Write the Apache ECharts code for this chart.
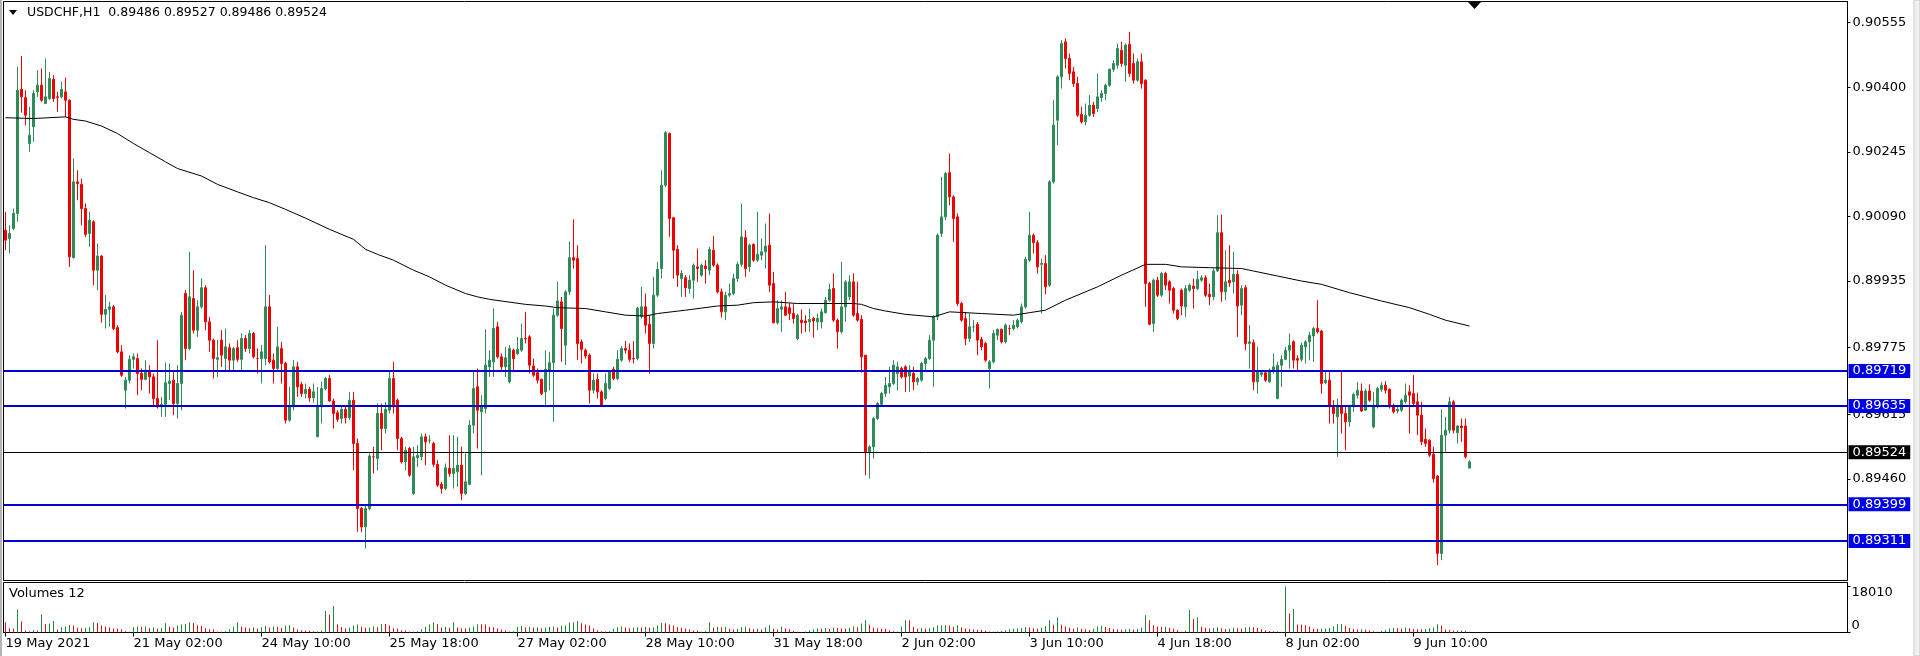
<!DOCTYPE html>
<html><head><meta charset="utf-8">
<script src="https://cdn.jsdelivr.net/npm/echarts@6/dist/echarts.min.js"></script>
<style>html,body{margin:0;padding:0;background:#fff;overflow:hidden}#c{width:1920px;height:656px}</style>
</head><body><div id="c"></div>
<script>
const symbolTitle = 'USDCHF,H1';
const headerQuote = ['0.89486', '0.89527', '0.89486', '0.89524'];
const volumeTitle = 'Volumes 12';
const tickLabels = ['19 May 2021','21 May 02:00','24 May 10:00','25 May 18:00','27 May 02:00','28 May 10:00','31 May 18:00','2 Jun 02:00','3 Jun 10:00','4 Jun 18:00','8 Jun 02:00','9 Jun 10:00'];
const barsPerTick = 32;
const priceTicks = [0.90555, 0.90400, 0.90245, 0.90090, 0.89935, 0.89775, 0.89615, 0.89460];
const levelLines = [0.89719, 0.89635, 0.89399, 0.89311];
const bidPrice = 0.89524;
const volumeTickTop = 18010;
const priceMin = 0.892162, priceMax = 0.906059;
const volumeMax = 19600;
const slotCount = 461;

const opens = [
0.90057,0.90037,0.90061,0.90097,0.90395,0.90375,0.90265,0.90305,0.90389,0.90405,
0.90361,0.90373,0.90419,0.90377,0.90377,0.90389,0.90369,0.89991,0.90173,0.90167,
0.90109,0.90049,0.90077,0.89961,0.89995,0.89855,0.89867,0.89873,0.89823,0.89765,
0.89673,0.89697,0.89747,0.89749,0.89713,0.89699,0.89719,0.89705,0.89653,0.89633,
0.89639,0.89689,0.89697,0.89641,0.89689,0.89905,0.89773,0.89893,0.89817,0.89873,
0.89919,0.89837,0.89793,0.89747,0.89793,0.89749,0.89775,0.89745,0.89775,0.89747,
0.89797,0.89773,0.89809,0.89749,0.89749,0.89749,0.89873,0.89745,0.89725,0.89773,
0.89737,0.89601,0.89633,0.89729,0.89687,0.89665,0.89675,0.89655,0.89561,0.89633,
0.89677,0.89701,0.89647,0.89619,0.89605,0.89627,0.89607,0.89649,0.89545,0.89389,
0.89345,0.89389,0.89513,0.89509,0.89617,0.89581,0.89625,0.89701,0.89649,0.89557,
0.89501,0.89533,0.89425,0.89511,0.89513,0.89561,0.89553,0.89545,0.89495,0.89447,
0.89437,0.89485,0.89473,0.89477,0.89493,0.89425,0.89447,0.89589,0.89681,0.89621,
0.89629,0.89729,0.89741,0.89825,0.89753,0.89729,0.89693,0.89769,0.89761,0.89769,
0.89797,0.89801,0.89731,0.89715,0.89699,0.89669,0.89721,0.89739,0.89853,0.89885,
0.89781,0.89909,0.89991,0.89989,0.89789,0.89769,0.89757,0.89673,0.89699,0.89669,
0.89653,0.89677,0.89723,0.89701,0.89745,0.89773,0.89769,0.89749,0.89749,0.89849,
0.89873,0.89831,0.89785,0.89901,0.89965,0.90165,0.90289,0.90087,0.90011,0.89941,
0.89943,0.89917,0.89937,0.89969,0.89949,0.89971,0.89961,0.90009,0.89973,0.89909,
0.89861,0.89901,0.89905,0.89941,0.89975,0.90039,0.89969,0.90023,0.89985,0.89997,
0.90005,0.90021,0.89929,0.89835,0.89867,0.89873,0.89871,0.89857,0.89797,0.89841,
0.89839,0.89837,0.89845,0.89837,0.89837,0.89859,0.89889,0.89917,0.89841,0.89813,
0.89873,0.89897,0.89933,0.89857,0.89843,0.89757,0.89525,0.89537,0.89605,0.89639,
0.89665,0.89681,0.89689,0.89713,0.89725,0.89729,0.89707,0.89713,0.89693,0.89697,
0.89737,0.89749,0.89793,0.89849,0.90049,0.90089,0.90195,0.90137,0.90089,0.89881,
0.89845,0.89797,0.89825,0.89831,0.89795,0.89785,0.89725,0.89741,0.89805,0.89819,
0.89789,0.89821,0.89821,0.89825,0.89837,0.89873,0.89985,0.90045,0.90027,0.89975,
0.89977,0.89925,0.90173,0.90321,0.90425,0.90509,0.90469,0.90437,0.90409,0.90335,
0.90317,0.90333,0.90357,0.90349,0.90375,0.90385,0.90405,0.90443,0.90453,0.90489,
0.90453,0.90503,0.90457,0.90417,0.90461,0.90417,0.89929,0.89833,0.89937,0.89901,
0.89953,0.89933,0.89917,0.89865,0.89913,0.89873,0.89913,0.89923,0.89917,0.89937,
0.89943,0.89903,0.89897,0.89959,0.90051,0.89909,0.89937,0.89933,0.89951,0.89877,
0.89919,0.89785,0.89787,0.89693,0.89711,0.89715,0.89693,0.89719,0.89653,0.89733,
0.89747,0.89769,0.89789,0.89749,0.89747,0.89777,0.89789,0.89803,0.89821,0.89815,
0.89691,0.89697,0.89635,0.89609,0.89633,0.89617,0.89597,0.89633,0.89661,0.89671,
0.89625,0.89671,0.89585,0.89635,0.89675,0.89685,0.89675,0.89633,0.89623,0.89625,
0.89645,0.89669,0.89665,0.89645,0.89613,0.89555,0.89553,0.89519,0.89467,0.89281,
0.89565,0.89577,0.89645,0.89571,0.89587,0.89587,0.89486];

const highs = [
0.90101,0.90069,0.90109,0.90449,0.90475,0.90393,0.90353,0.90393,0.90441,0.90445,
0.90469,0.90437,0.90429,0.90389,0.90413,0.90423,0.90371,0.90229,0.90201,0.90181,
0.90121,0.90101,0.90081,0.90025,0.89997,0.89901,0.89885,0.89877,0.89829,0.89781,
0.89705,0.89757,0.89761,0.89761,0.89725,0.89745,0.89733,0.89713,0.89793,0.89657,
0.89739,0.89737,0.89721,0.89733,0.89861,0.89913,0.90005,0.89961,0.89889,0.89941,
0.89925,0.89849,0.89797,0.89793,0.89817,0.89821,0.89785,0.89777,0.89793,0.89809,
0.89805,0.89817,0.89813,0.89773,0.89781,0.90021,0.89901,0.89761,0.89825,0.89789,
0.89741,0.89681,0.89745,0.89741,0.89693,0.89689,0.89681,0.89689,0.89681,0.89693,
0.89705,0.89709,0.89653,0.89625,0.89633,0.89633,0.89669,0.89669,0.89557,0.89393,
0.89397,0.89521,0.89537,0.89641,0.89641,0.89645,0.89721,0.89741,0.89653,0.89561,
0.89537,0.89537,0.89537,0.89541,0.89569,0.89569,0.89565,0.89549,0.89505,0.89453,
0.89497,0.89565,0.89565,0.89561,0.89537,0.89521,0.89601,0.89721,0.89725,0.89661,
0.89819,0.89769,0.89869,0.89837,0.89761,0.89777,0.89781,0.89773,0.89801,0.89833,
0.89861,0.89805,0.89749,0.89725,0.89701,0.89769,0.89765,0.89869,0.89933,0.89897,
0.89913,0.90029,0.90083,0.90021,0.89795,0.89773,0.89761,0.89713,0.89713,0.89673,
0.89713,0.89721,0.89729,0.89769,0.89779,0.89791,0.89785,0.89791,0.89873,0.89921,
0.89905,0.89853,0.89945,0.89981,0.90201,0.90295,0.90291,0.90089,0.90021,0.89961,
0.89949,0.89949,0.89977,0.90013,0.89977,0.89985,0.90017,0.90043,0.89977,0.89917,
0.89909,0.89929,0.89953,0.89981,0.90121,0.90057,0.90025,0.90025,0.90101,0.90037,
0.90073,0.90097,0.89957,0.89889,0.89889,0.89909,0.89881,0.89879,0.89857,0.89867,
0.89853,0.89869,0.89849,0.89857,0.89869,0.89897,0.89929,0.89953,0.89845,0.89981,
0.89937,0.89949,0.89953,0.89933,0.89853,0.89757,0.89541,0.89609,0.89645,0.89669,
0.89705,0.89729,0.89745,0.89741,0.89729,0.89733,0.89733,0.89729,0.89705,0.89741,
0.89753,0.89805,0.89853,0.90049,0.90185,0.90197,0.90241,0.90141,0.90097,0.89885,
0.89861,0.89857,0.89841,0.89837,0.89801,0.89789,0.89745,0.89817,0.89821,0.89821,
0.89833,0.89829,0.89841,0.89845,0.89881,0.89993,0.90101,0.90049,0.90033,0.89989,
0.89997,0.90177,0.90369,0.90429,0.90513,0.90517,0.90481,0.90449,0.90425,0.90353,
0.90361,0.90381,0.90365,0.90433,0.90393,0.90409,0.90445,0.90465,0.90505,0.90509,
0.90505,0.90533,0.90481,0.90469,0.90481,0.90419,0.89933,0.89941,0.89945,0.89957,
0.89957,0.89937,0.89921,0.89867,0.89917,0.89925,0.89929,0.89941,0.89959,0.89949,
0.89949,0.89929,0.89965,0.90093,0.90095,0.90009,0.90021,0.90005,0.89961,0.89925,
0.89925,0.89829,0.89795,0.89777,0.89721,0.89719,0.89725,0.89761,0.89741,0.89757,
0.89777,0.89809,0.89793,0.89757,0.89787,0.89793,0.89813,0.89825,0.89889,0.89817,
0.89721,0.89717,0.89649,0.89653,0.89721,0.89633,0.89637,0.89667,0.89693,0.89689,
0.89677,0.89687,0.89669,0.89681,0.89693,0.89695,0.89677,0.89641,0.89637,0.89653,
0.89689,0.89685,0.89709,0.89667,0.89645,0.89581,0.89555,0.89537,0.89469,0.89627,
0.89609,0.89657,0.89649,0.89589,0.89605,0.89605,0.89505];

const lows = [
0.90009,0.90001,0.90057,0.90077,0.90339,0.90309,0.90245,0.90269,0.90377,0.90365,
0.90361,0.90369,0.90365,0.90341,0.90373,0.90329,0.89969,0.89989,0.90129,0.90069,
0.90041,0.90017,0.89925,0.89913,0.89835,0.89821,0.89825,0.89817,0.89761,0.89705,
0.89629,0.89689,0.89725,0.89661,0.89673,0.89697,0.89665,0.89633,0.89629,0.89609,
0.89609,0.89649,0.89613,0.89605,0.89625,0.89745,0.89769,0.89809,0.89801,0.89869,
0.89817,0.89765,0.89701,0.89705,0.89729,0.89721,0.89721,0.89721,0.89741,0.89717,
0.89765,0.89761,0.89749,0.89713,0.89689,0.89733,0.89737,0.89689,0.89721,0.89689,
0.89593,0.89597,0.89625,0.89657,0.89657,0.89653,0.89645,0.89643,0.89561,0.89593,
0.89673,0.89645,0.89581,0.89597,0.89593,0.89593,0.89601,0.89481,0.89333,0.89333,
0.89293,0.89385,0.89473,0.89481,0.89529,0.89569,0.89617,0.89617,0.89529,0.89497,
0.89481,0.89465,0.89421,0.89489,0.89505,0.89493,0.89545,0.89489,0.89441,0.89425,
0.89433,0.89465,0.89437,0.89441,0.89409,0.89421,0.89445,0.89569,0.89533,0.89469,
0.89617,0.89705,0.89705,0.89749,0.89721,0.89705,0.89689,0.89717,0.89757,0.89765,
0.89785,0.89713,0.89705,0.89689,0.89661,0.89637,0.89673,0.89597,0.89849,0.89741,
0.89733,0.89901,0.89965,0.89745,0.89737,0.89749,0.89641,0.89665,0.89653,0.89635,
0.89649,0.89673,0.89697,0.89697,0.89741,0.89761,0.89741,0.89737,0.89745,0.89845,
0.89809,0.89713,0.89773,0.89897,0.89941,0.90161,0.90041,0.89941,0.89921,0.89897,
0.89897,0.89905,0.89893,0.89933,0.89945,0.89929,0.89949,0.89969,0.89905,0.89847,
0.89841,0.89897,0.89901,0.89933,0.89969,0.89945,0.89957,0.89981,0.89981,0.89985,
0.89965,0.89909,0.89833,0.89831,0.89813,0.89851,0.89841,0.89833,0.89793,0.89809,
0.89813,0.89813,0.89799,0.89817,0.89821,0.89857,0.89885,0.89837,0.89773,0.89809,
0.89837,0.89889,0.89849,0.89837,0.89715,0.89469,0.89461,0.89509,0.89601,0.89637,
0.89657,0.89665,0.89685,0.89673,0.89701,0.89669,0.89669,0.89673,0.89685,0.89693,
0.89721,0.89745,0.89681,0.89841,0.90041,0.90081,0.90117,0.90029,0.89875,0.89837,
0.89781,0.89789,0.89813,0.89757,0.89769,0.89741,0.89677,0.89737,0.89793,0.89785,
0.89785,0.89805,0.89817,0.89821,0.89833,0.89869,0.89981,0.90001,0.89953,0.89857,
0.89903,0.89921,0.90169,0.90261,0.90397,0.90445,0.90417,0.90401,0.90329,0.90313,
0.90309,0.90329,0.90329,0.90341,0.90365,0.90369,0.90401,0.90437,0.90445,0.90449,
0.90413,0.90425,0.90409,0.90413,0.90397,0.89873,0.89829,0.89813,0.89897,0.89897,
0.89913,0.89881,0.89857,0.89841,0.89853,0.89849,0.89909,0.89869,0.89913,0.89933,
0.89897,0.89877,0.89889,0.89957,0.89885,0.89889,0.89921,0.89905,0.89801,0.89853,
0.89769,0.89725,0.89673,0.89665,0.89705,0.89693,0.89691,0.89713,0.89651,0.89681,
0.89745,0.89725,0.89725,0.89721,0.89741,0.89737,0.89745,0.89741,0.89809,0.89665,
0.89687,0.89593,0.89593,0.89513,0.89569,0.89529,0.89585,0.89621,0.89653,0.89621,
0.89623,0.89645,0.89581,0.89629,0.89669,0.89665,0.89629,0.89617,0.89617,0.89621,
0.89641,0.89569,0.89633,0.89565,0.89541,0.89537,0.89513,0.89451,0.89253,0.89265,
0.89525,0.89569,0.89569,0.89545,0.89549,0.89509,0.89486];

const closes = [
0.90033,0.90049,0.90097,0.90393,0.90377,0.90333,0.90285,0.90385,0.90405,0.90369,
0.90377,0.90421,0.90373,0.90376,0.90395,0.90369,0.89993,0.90173,0.90169,0.90109,
0.90047,0.90081,0.89961,0.89995,0.89855,0.89867,0.89873,0.89821,0.89765,0.89709,
0.89697,0.89747,0.89753,0.89713,0.89699,0.89721,0.89705,0.89653,0.89633,0.89639,
0.89691,0.89695,0.89641,0.89689,0.89853,0.89773,0.89897,0.89817,0.89873,0.89919,
0.89837,0.89793,0.89749,0.89751,0.89757,0.89777,0.89745,0.89773,0.89747,0.89797,
0.89773,0.89809,0.89753,0.89749,0.89765,0.89873,0.89741,0.89725,0.89777,0.89737,
0.89601,0.89633,0.89729,0.89681,0.89665,0.89675,0.89655,0.89669,0.89637,0.89677,
0.89701,0.89647,0.89617,0.89603,0.89627,0.89607,0.89649,0.89545,0.89389,0.89345,
0.89389,0.89515,0.89513,0.89617,0.89581,0.89627,0.89701,0.89633,0.89557,0.89501,
0.89529,0.89469,0.89513,0.89517,0.89561,0.89549,0.89553,0.89495,0.89445,0.89437,
0.89487,0.89473,0.89485,0.89493,0.89425,0.89453,0.89589,0.89677,0.89625,0.89633,
0.89733,0.89745,0.89821,0.89753,0.89729,0.89751,0.89773,0.89749,0.89771,0.89797,
0.89796,0.89733,0.89709,0.89697,0.89665,0.89723,0.89739,0.89853,0.89887,0.89821,
0.89909,0.89991,0.89985,0.89785,0.89771,0.89755,0.89673,0.89697,0.89669,0.89637,
0.89689,0.89717,0.89701,0.89747,0.89773,0.89769,0.89747,0.89748,0.89869,0.89873,
0.89829,0.89785,0.89901,0.89963,0.90165,0.90291,0.90085,0.90009,0.89949,0.89953,
0.89919,0.89937,0.89973,0.89965,0.89973,0.89965,0.90011,0.89973,0.89909,0.89861,
0.89901,0.89905,0.89941,0.89975,0.90041,0.89965,0.90021,0.89985,0.89999,0.90005,
0.90019,0.89925,0.89835,0.89869,0.89873,0.89853,0.89857,0.89845,0.89853,0.89835,
0.89835,0.89843,0.89839,0.89845,0.89861,0.89889,0.89915,0.89841,0.89813,0.89873,
0.89933,0.89933,0.89853,0.89841,0.89753,0.89525,0.89537,0.89605,0.89641,0.89665,
0.89685,0.89689,0.89733,0.89729,0.89705,0.89705,0.89721,0.89693,0.89701,0.89737,
0.89749,0.89793,0.89849,0.90045,0.90089,0.90193,0.90137,0.90085,0.89881,0.89841,
0.89797,0.89825,0.89825,0.89793,0.89777,0.89745,0.89741,0.89809,0.89819,0.89789,
0.89829,0.89821,0.89829,0.89841,0.89873,0.89987,0.90045,0.90027,0.89969,0.89977,
0.89921,0.90173,0.90309,0.90425,0.90505,0.90469,0.90433,0.90409,0.90333,0.90317,
0.90333,0.90357,0.90337,0.90377,0.90385,0.90405,0.90443,0.90457,0.90493,0.90457,
0.90501,0.90433,0.90417,0.90461,0.90409,0.89929,0.89831,0.89937,0.89901,0.89953,
0.89925,0.89913,0.89865,0.89845,0.89875,0.89917,0.89925,0.89917,0.89939,0.89943,
0.89901,0.89897,0.89959,0.90051,0.89909,0.89933,0.89931,0.89951,0.89875,0.89917,
0.89785,0.89789,0.89693,0.89717,0.89715,0.89697,0.89721,0.89729,0.89733,0.89747,
0.89769,0.89781,0.89745,0.89745,0.89781,0.89789,0.89805,0.89821,0.89813,0.89689,
0.89697,0.89633,0.89617,0.89633,0.89617,0.89597,0.89633,0.89663,0.89673,0.89623,
0.89671,0.89649,0.89637,0.89677,0.89685,0.89673,0.89633,0.89621,0.89627,0.89649,
0.89661,0.89661,0.89641,0.89613,0.89549,0.89545,0.89517,0.89461,0.89281,0.89565,
0.89577,0.89645,0.89577,0.89587,0.89583,0.89513,0.89501];

const volumes = [
4000,1700,1500,9000,4400,800,500,1000,800,7200,
3200,3500,4500,1200,2100,2400,2900,2700,1900,1700,
1900,2100,4000,3700,2700,2400,2000,1600,1500,1300,
500,300,2100,2400,2300,2400,1700,2000,1500,1900,
3600,2300,2000,2700,3100,3300,4000,3700,2800,2500,
1700,1300,1200,400,300,500,1300,2300,4000,2400,
2000,1700,2100,1500,2100,2500,2000,2400,2300,1900,
2700,2800,2000,1200,900,800,700,500,400,800,
8400,7000,10400,3200,2100,1700,2000,2700,3100,2300,
1900,2000,2400,2100,3300,3300,2700,1700,1500,900,
800,400,300,500,1300,2300,3100,4000,3200,2000,
2300,1900,4000,2000,1700,1700,2000,2400,3200,3200,
3100,2300,2100,1600,1200,800,400,500,2300,2500,
2100,2300,2000,2100,1700,2000,2300,2400,2000,2500,
2700,3900,4000,4500,3600,3100,2700,1700,900,500,
400,600,1500,2100,2400,2000,1700,1900,2100,2000,
2300,1900,2100,2700,3700,3600,3100,2700,2100,1900,
1600,1200,800,800,300,500,4000,2000,2300,2100,
2300,1500,1200,1400,2100,2300,1700,1300,1500,1200,
2000,2800,1500,1200,2400,1600,1300,600,300,200,
400,900,1300,1700,1500,1800,1400,2000,1800,1600,
1500,1900,2400,2100,3500,4800,3000,1900,1700,1500,
1400,900,500,400,2400,4800,4800,2200,1500,1800,
1500,1700,2100,2700,2800,2900,2700,2300,2700,2000,
1600,1400,1200,1100,1000,700,400,300,400,600,
900,1300,1500,1600,1800,2200,2000,1700,1500,1900,
2500,4800,3000,5900,3000,2400,1900,1600,2000,1500,
1300,1000,1500,2400,2600,2200,1800,1400,1200,1100,
1300,1500,1200,1400,1900,6800,4800,2800,2400,2200,
2300,1800,1500,1000,300,700,8800,5300,5900,2300,
1900,1600,1800,2100,1700,1400,1500,1900,1700,1500,
2000,2200,2100,1800,1300,900,600,500,400,300,
18010,7400,9200,3100,3000,2800,2400,1500,1400,1500,
1600,1800,2400,3200,3300,2600,1800,1400,1200,1300,
1100,800,500,300,600,1000,1600,1800,1700,1500,
1900,1700,1400,1300,1200,1400,1700,2000,3200,2600,
1200,1000,800,900,700,800,300];

const maBars = [0,7,15,17,20,24,28,32,36,40,43,49,53,58,62,66,70,75,81,87,90,93,97,102,106,110,115,118,121,130,135,138,145,150,155,160,163,170,178,183,187,192,198,205,212,214,217,220,225,232,236,244,252,256,260,265,273,279,285,290,294,301,309,312,318,324,329,336,344,351,356,360,366];
const maValues = [0.90327,0.90325,0.90329,0.90323,0.90319,0.90307,0.90289,0.90265,0.90243,0.90221,0.90205,0.90187,0.90167,0.90149,0.90135,0.90123,0.90107,0.90086,0.90059,0.90035,0.90011,0.89999,0.89985,0.89961,0.89945,0.89925,0.89905,0.89897,0.89891,0.89879,0.89875,0.89871,0.89869,0.89861,0.89853,0.89851,0.89857,0.89865,0.89875,0.89877,0.89883,0.89885,0.89881,0.89881,0.89881,0.89879,0.89869,0.89863,0.89855,0.89849,0.89861,0.89857,0.89853,0.89859,0.89865,0.89889,0.89921,0.89949,0.89975,0.89975,0.89969,0.89967,0.89965,0.89959,0.89947,0.89935,0.89927,0.89907,0.89887,0.89871,0.89855,0.89841,0.89827];

// ---- build ----
const FONT = 'DejaVu Sans';
const BULL = '#2E8B57', BEAR = '#F00000';
const categories = [];
for (let i = 0; i < slotCount; i++) categories.push(String(i));
const isTick = idx => idx % barsPerTick === 0 && idx / barsPerTick < tickLabels.length;
const candleData = opens.map((o, i) => [o, closes[i], lows[i], highs[i]]);
const volData = volumes.map((v, i) => ({
  value: v,
  itemStyle: { color: (i > 0 && v > volumes[i - 1]) ? '#1F8A3B' : '#E0101A' }
}));
const maData = maBars.map((b, k) => [b, maValues[k]]);

const levelLabel = (bg) => ({
  show: true, position: 'end', distance: 1,
  formatter: p => Number(p.value).toFixed(5),
  color: '#fff', backgroundColor: bg, padding: [1, 4, 0, 4],
  fontFamily: FONT, fontSize: 13, lineHeight: 13
});
const markData = levelLines.map(v => ({
  yAxis: v, lineStyle: { color: '#0000CD', width: 2, type: 'solid' }, label: levelLabel('#0000E6')
}));
markData.push({ yAxis: bidPrice, lineStyle: { color: '#000', width: 1, type: 'solid' }, label: levelLabel('#000') });

const chart = echarts.init(document.getElementById('c'), null, { renderer: 'canvas' });
chart.setOption({
  animation: false,
  backgroundColor: '#fff',
  grid: [
    { left: 3.5, top: 1.5, width: 1844, height: 579, show: true, borderColor: '#000', borderWidth: 1, backgroundColor: '#fff' },
    { left: 3.5, top: 582.5, width: 1844, height: 50, show: true, borderColor: '#000', borderWidth: 1, backgroundColor: '#fff' }
  ],
  xAxis: [
    { type: 'category', gridIndex: 0, data: categories, boundaryGap: true,
      axisLine: { show: false }, axisTick: { show: false }, axisLabel: { show: false }, splitLine: { show: false } },
    { type: 'category', gridIndex: 1, data: categories, boundaryGap: true,
      axisLine: { show: true, lineStyle: { color: '#000', width: 1 } },
      axisTick: { show: true, alignWithLabel: true, interval: isTick, length: 4, lineStyle: { color: '#000' } },
      axisLabel: { show: true, interval: isTick, align: 'left', margin: 5,
        formatter: (v, idx) => tickLabels[idx / barsPerTick] || '',
        color: '#000', fontFamily: FONT, fontSize: 13 },
      splitLine: { show: false } }
  ],
  yAxis: [
    { type: 'value', gridIndex: 0, position: 'right', min: priceMin, max: priceMax, scale: true,
      axisLine: { show: true, lineStyle: { color: '#000' } },
      axisTick: { show: true, length: 3, customValues: priceTicks, lineStyle: { color: '#000' } },
      axisLabel: { show: true, customValues: priceTicks, margin: 5, formatter: v => v.toFixed(5),
        color: '#000', fontFamily: FONT, fontSize: 13 },
      splitLine: { show: false } },
    { type: 'value', gridIndex: 1, position: 'right', min: 0, max: volumeMax,
      axisLine: { show: true, lineStyle: { color: '#000' } },
      axisTick: { show: true, length: 3, customValues: [volumeTickTop], lineStyle: { color: '#000' } },
      axisLabel: { show: true, customValues: [volumeTickTop], margin: 4, verticalAlign: 'top',
        formatter: v => String(v), color: '#000', fontFamily: FONT, fontSize: 13 },
      splitLine: { show: false } },
    { type: 'value', gridIndex: 1, position: 'right', min: 0, max: volumeMax,
      axisLine: { show: false },
      axisTick: { show: true, length: 3, customValues: [0], lineStyle: { color: '#000' } },
      axisLabel: { show: true, customValues: [0], margin: 4, verticalAlign: 'bottom',
        formatter: v => String(v), color: '#000', fontFamily: FONT, fontSize: 13 },
      splitLine: { show: false } }
  ],
  series: [
    { type: 'candlestick', xAxisIndex: 0, yAxisIndex: 0, data: candleData, barWidth: 2,
      itemStyle: { color: BULL, color0: BEAR, borderColor: BULL, borderColor0: BEAR, borderWidth: 1 },
      markLine: { symbol: ['none', 'none'], precision: 5, silent: true, animation: false, data: markData }, z: 2 },
    { type: 'line', xAxisIndex: 0, yAxisIndex: 0, data: maData, showSymbol: false, symbol: 'none',
      lineStyle: { color: '#000', width: 1 }, silent: true, z: 3 },
    { type: 'bar', xAxisIndex: 1, yAxisIndex: 1, data: volData, barWidth: 1, silent: true }
  ],
  graphic: [
    { type: 'rect', shape: { x: 0, y: 0, width: 2, height: 656 }, style: { fill: '#b4b4b4' }, silent: true },
    { type: 'rect', shape: { x: 1914, y: 0, width: 6, height: 656 }, style: { fill: '#f0f0f0', stroke: '#c8c8c8', lineWidth: 1 }, silent: true },
    { type: 'polygon', shape: { points: [[9, 10], [17, 10], [13, 15]] }, style: { fill: '#000' }, silent: true },
    { type: 'text', left: 27, top: 6, style: { text: symbolTitle + '  ' + headerQuote.join(' '), fill: '#000', font: '12.5px "DejaVu Sans"' }, silent: true },
    { type: 'polygon', shape: { points: [[1468, 2], [1481, 2], [1474.5, 9]] }, style: { fill: '#000' }, silent: true },
    { type: 'text', left: 9, top: 587, style: { text: volumeTitle, fill: '#000', font: '13px "DejaVu Sans"' }, silent: true }
  ]
});
</script></body></html>
